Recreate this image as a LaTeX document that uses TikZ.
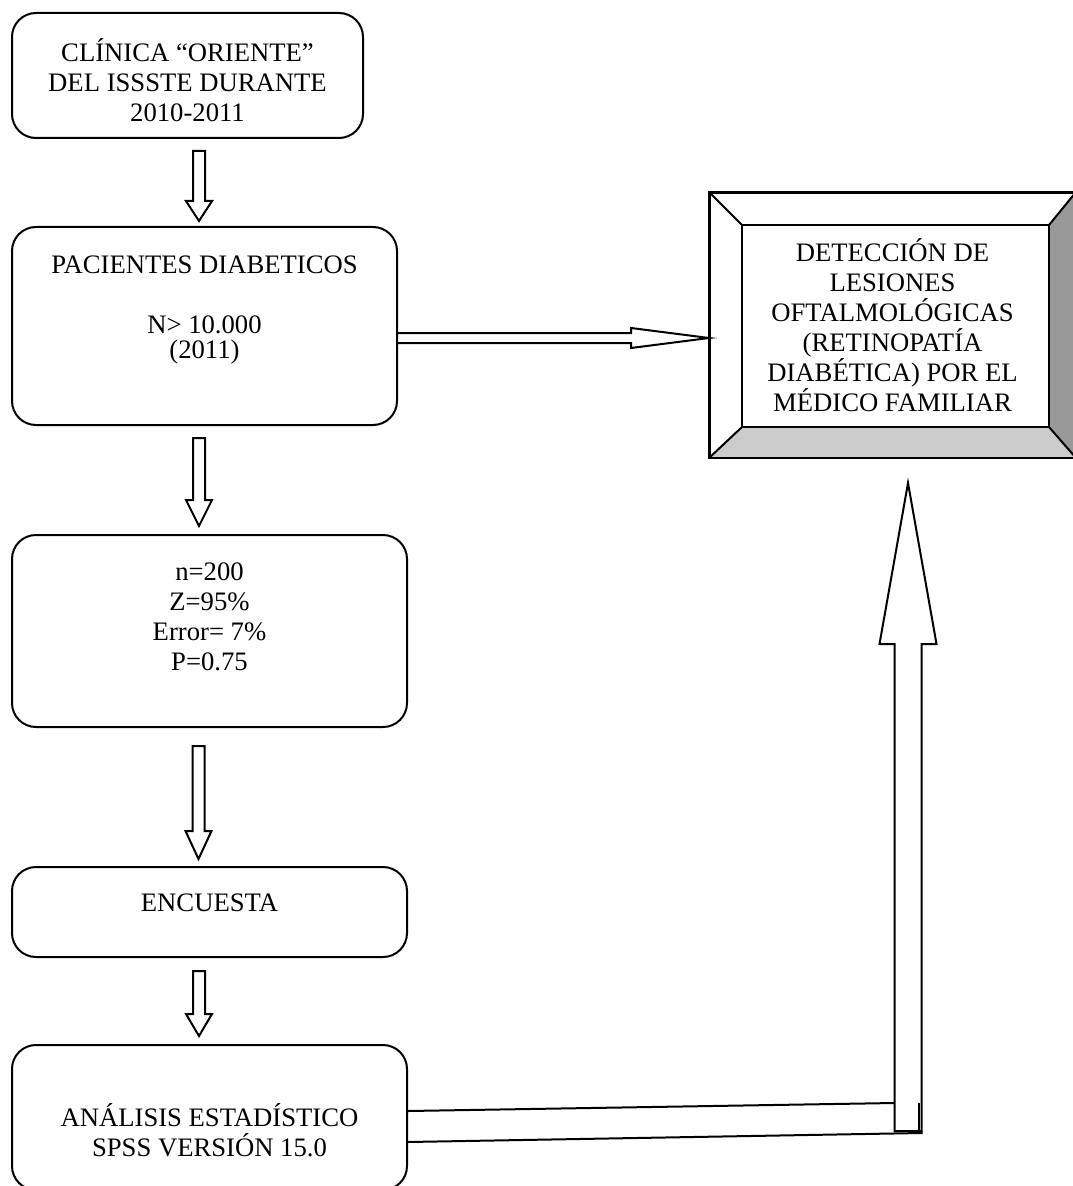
\documentclass[tikz,border=0pt]{standalone}
\usepackage{fontspec}
\setmainfont{Liberation Serif}
\usetikzlibrary{positioning,calc}
\newdimen\px \px=0.45pt
\definecolor{bevdark}{gray}{0.6}
\definecolor{bevlight}{gray}{0.8}
% hollow arrow pointing down: top point, tip point, head length
\newcommand*{\downarr}[3]{%
  \draw[hollow] ($(#1)+(-6,0)$) -- ($(#1)+(6,0)$) -- ($(#2)+(6,-#3)$)
    -- ($(#2)+(13,-#3)$) -- (#2) -- ($(#2)+(-13,-#3)$)
    -- ($(#2)+(-6,-#3)$) -- cycle;}

\begin{document}
\begin{tikzpicture}[x=\px,y=-\px,
  box/.style={draw,line width=0.9pt,rounded corners=24\px,inner sep=0pt},
  txt/.style={align=center,font=\fontsize{12}{13.5}\selectfont,inner sep=0pt},
  hollow/.style={draw,line width=0.9pt,line join=miter}]
\useasboundingbox (0,0) rectangle (1073,1186);
% Boxes of the left column
\node[box,minimum width=351\px,minimum height=125\px] (b1) at (187.5,75.5) {};
\node[box,minimum width=385\px,minimum height=198\px] (b2) at (204.5,326) {};
\node[box,minimum width=395\px,minimum height=192\px] (b3) at (209.5,631) {};
\node[box,minimum width=395\px,minimum height=90\px] (b4) at (209.5,912) {};
\node[box,minimum width=395\px,minimum height=145\px] (b5) at (209.5,1117.5) {};
% Their texts
\node[txt] (t1) at ($(b1)+(0,4.5)$) {CLÍNICA “ORIENTE”\\DEL ISSSTE DURANTE\\2010-2011};
\node[txt] (t2) at ($(b2)+(0,-16)$) {PACIENTES DIABETICOS\\[13.5pt]N> 10.000\\[-2.2pt](2011)};
\node[txt] (t3) at ($(b3)+(0,-14)$) {n=200\\Z=95\%\\Error= 7\%\\P=0.75};
\node[txt] (t4) at ($(b4)+(0,-9)$) {ENCUESTA};
\node[txt] (t5) at ($(b5)+(0,13)$) {ANÁLISIS ESTADÍSTICO\\SPSS VERSIÓN 15.0};
% Framed result box
\node[txt,draw,line width=0.9pt,minimum width=365\px,minimum height=264\px] (det)
  at (892.5,325) {DETECCIÓN DE\\LESIONES\\OFTALMOLÓGICAS\\(RETINOPATÍA\\DIABÉTICA) POR EL\\MÉDICO FAMILIAR};
\coordinate (i1) at ($(det.north west)+(33,33)$);
\coordinate (i2) at ($(det.north east)+(-27,33)$);
\coordinate (i3) at ($(det.south east)+(-27,-31)$);
\coordinate (i4) at ($(det.south west)+(33,-31)$);
\fill[bevdark] (i2) -- (det.north east) -- (det.south east) -- (i3) -- cycle;
\fill[bevlight] (i4) -- (i3) -- (det.south east) -- (det.south west) -- cycle;
\draw[line width=0.9pt] (det.north west) rectangle (det.south east);
\draw[line width=0.9pt] (i1) rectangle (i3);
\draw[line width=0.9pt] (i1) -- (det.north west) (i2) -- (det.north east)
  (i3) -- (det.south east) (i4) -- (det.south west);
% Down arrows between the boxes
\coordinate (s1) at ($(b1.south)+(11.5,12)$);
\coordinate (e1) at ($(s1|-b2.north)+(0,-5)$);
\downarr{s1}{e1}{20}
\coordinate (s2) at ($(b2.south)+(-5.5,12)$);
\coordinate (e2) at ($(s2|-b3.north)+(0,-8)$);
\downarr{s2}{e2}{26}
\coordinate (s3) at ($(b3.south)+(-11,18)$);
\coordinate (e3) at ($(s3|-b4.north)+(0,-7)$);
\downarr{s3}{e3}{28}
\coordinate (s4) at ($(b4.south)+(-10.5,13)$);
\coordinate (e4) at ($(s4|-b5.north)+(0,-8)$);
\downarr{s4}{e4}{22}
% Arrow to the result box
\coordinate (h0) at ($(b2.east)+(0,12)$);
\coordinate (h1) at ($(det.west)+(0,13)$);
\draw[hollow] ($(h0)+(0,-5)$) -- ($(h1)+(-78,-5)$) -- ($(h1)+(-78,-10)$) -- (h1)
  -- ($(h1)+(-78,10)$) -- ($(h1)+(-78,5)$) -- ($(h0)+(0,5)$);
% Large arrow back up from the analysis
\coordinate (u1) at ($(det.south)+(15.5,25)$);
\coordinate (u0) at ($(u1|-b5.east)+(0,13.5)$);
\draw[hollow] ($(u0)+(-13.5,0)$) -- ($(u1)+(-13.5,161)$) -- ($(u1)+(-28.5,161)$) -- (u1)
  -- ($(u1)+(28.5,161)$) -- ($(u1)+(13.5,161)$) -- ($(u0)+(13.5,0)$) -- cycle;
\draw[line width=0.9pt] ($(b5.east)+(0,-6.5)$) -- ($(u0)+(-13.5,-28)$);
\draw[line width=0.9pt] ($(b5.east)+(0,24.5)$) -- ($(u0)+(13.5,2)$) -- ($(u0)+(13.5,0)$);
\draw[line width=0.9pt] ($(u0)+(11,-28)$) -- ($(u0)+(11,0)$);
\end{tikzpicture}
\end{document}
